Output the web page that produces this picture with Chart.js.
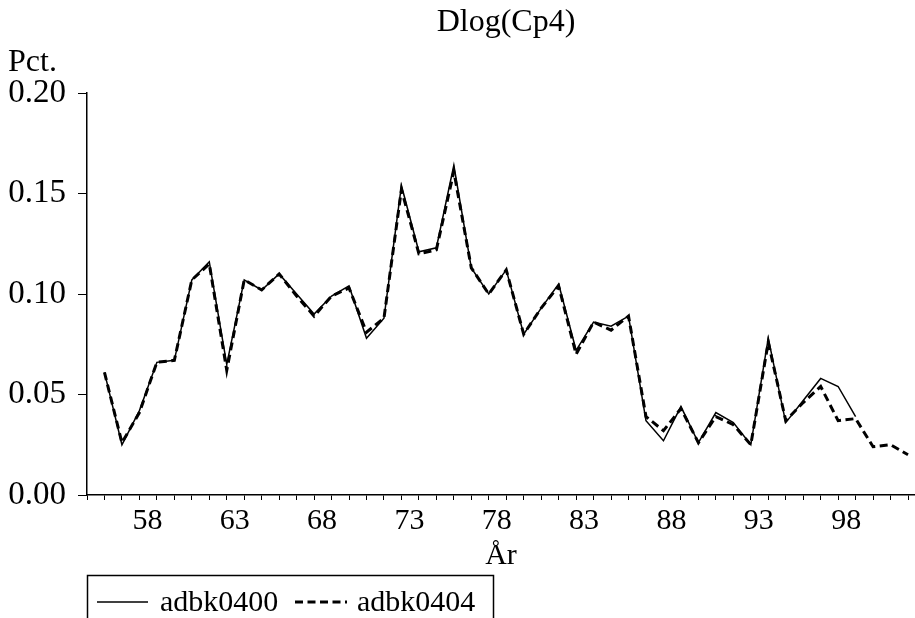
<!DOCTYPE html>
<html>
<head>
<meta charset="utf-8">
<title>Dlog(Cp4)</title>
<script src="https://cdn.jsdelivr.net/npm/chart.js@4.4.1/dist/chart.umd.min.js"></script>
<style>
    html, body { margin: 0; padding: 0; background: #fff; }
    #wrap { width: 915px; height: 618px; }
</style>
</head>
<body>
<div id="wrap"><canvas id="chart" width="915" height="618"></canvas></div>
<script>
// years on the axis
const years = [
    1956, 1957, 1958, 1959, 1960, 1961, 1962, 1963, 1964, 1965,
    1966, 1967, 1968, 1969, 1970, 1971, 1972, 1973, 1974, 1975,
    1976, 1977, 1978, 1979, 1980, 1981, 1982, 1983, 1984, 1985,
    1986, 1987, 1988, 1989, 1990, 1991, 1992, 1993, 1994, 1995,
    1996, 1997, 1998, 1999, 2000, 2001, 2002
];

// adbk0400 (solid), stops in 1999
const adbk0400 = [
    0.061, 0.025, 0.042, 0.066, 0.067, 0.107, 0.116, 0.065, 0.107, 0.102,
    0.110, 0.100, 0.090, 0.099, 0.104, 0.078, 0.088, 0.154, 0.121, 0.123,
    0.164, 0.113, 0.100, 0.112, 0.080, 0.093, 0.105, 0.072, 0.086, 0.084,
    0.089, 0.037, 0.027, 0.044, 0.026, 0.041, 0.036, 0.025, 0.078, 0.036,
    0.047, 0.058, 0.054, 0.039, null, null, null
];

// adbk0404 (dashed)
const adbk0404 = [
    0.061, 0.026, 0.041, 0.066, 0.067, 0.107, 0.115, 0.062, 0.107, 0.102,
    0.110, 0.099, 0.089, 0.099, 0.103, 0.081, 0.088, 0.152, 0.120, 0.122,
    0.161, 0.113, 0.100, 0.112, 0.080, 0.093, 0.104, 0.070, 0.086, 0.082,
    0.089, 0.039, 0.032, 0.043, 0.026, 0.039, 0.035, 0.025, 0.076, 0.037,
    0.046, 0.054, 0.037, 0.038, 0.024, 0.025, 0.020
];

// labelled years on x axis and y ticks
const xLabelYears = [1958, 1963, 1968, 1973, 1978, 1983, 1988, 1993, 1998];
const yTicks = [0, 0.05, 0.10, 0.15, 0.20];

const seriesNames = ['adbk0400', 'adbk0404'];
const titleText = 'Dlog(Cp4)';
const yUnitText = 'Pct.';
const xTitleText = 'År';

document.addEventListener('DOMContentLoaded', function() {
    const ctx = document.getElementById('chart').getContext('2d');
    const FONT = '"Liberation Serif", "Times New Roman", serif';

    function toPoints(values) {
        return years.map((y, i) => ({ x: y, y: values[i] }));
    }

    // white background, title, unit, axis title and boxed legend
    const decorations = {
        id: 'decorations',
        beforeDraw(chart) {
            const c = chart.ctx;
            c.save();
            c.fillStyle = '#fff';
            c.fillRect(0, 0, chart.width, chart.height);
            c.restore();
        },
        afterDraw(chart) {
            const c = chart.ctx;
            const area = chart.chartArea;
            c.save();
            c.fillStyle = '#000';
            c.strokeStyle = '#000';
            c.textBaseline = 'alphabetic';

            c.font = '32px ' + FONT;
            c.textAlign = 'center';
            c.fillText(titleText, 506, 31);

            c.textAlign = 'left';
            c.fillText(yUnitText, 8, 71);

            c.font = '30px ' + FONT;
            c.textAlign = 'center';
            c.fillText(xTitleText, (area.left + area.right) / 2, 564);

            // legend box
            c.lineWidth = 1.5;
            c.strokeRect(87.5, 575.5, 406, 60);

            c.beginPath();
            c.moveTo(97, 602);
            c.lineTo(148, 602);
            c.stroke();

            c.lineWidth = 3;
            c.setLineDash([8, 4.5]);
            c.beginPath();
            c.moveTo(295, 602);
            c.lineTo(347, 602);
            c.stroke();
            c.setLineDash([]);

            c.textAlign = 'left';
            c.fillText(seriesNames[0], 160, 611);
            c.fillText(seriesNames[1], 357, 611);
            c.restore();
        }
    };

    new Chart(ctx, {
        type: 'line',
        data: {
            datasets: [{
                label: seriesNames[0],
                data: toPoints(adbk0400),
                borderColor: '#000',
                borderWidth: 1.5,
                pointRadius: 0,
                tension: 0,
                fill: false
            }, {
                label: seriesNames[1],
                data: toPoints(adbk0404),
                borderColor: '#000',
                borderWidth: 3,
                borderDash: [8, 4.5],
                pointRadius: 0,
                tension: 0,
                fill: false
            }]
        },
        options: {
            responsive: false,
            animation: false,
            layout: { padding: { top: 93, left: 0, right: 0, bottom: 0 } },
            plugins: {
                legend: { display: false },
                title: { display: false },
                tooltip: { enabled: false }
            },
            scales: {
                x: {
                    type: 'linear',
                    min: 1955,
                    max: 2002.4,
                    afterFit: function(scale) { scale.height = 123; },
                    border: { display: true, color: '#000', width: 1.5 },
                    grid: { drawOnChartArea: false, drawTicks: true, tickLength: 5, color: '#000', lineWidth: 1 },
                    afterBuildTicks: function(scale) {
                        const t = [];
                        for (let y = 1955; y <= 2002; y++) t.push({ value: y });
                        scale.ticks = t;
                    },
                    ticks: {
                        autoSkip: false,
                        maxRotation: 0,
                        padding: 3,
                        labelOffset: 8,
                        color: '#000',
                        font: { family: FONT, size: 30 },
                        callback: function(value) {
                            return xLabelYears.includes(value) ? String(value % 100) : '';
                        }
                    }
                },
                y: {
                    min: 0,
                    max: 0.2,
                    afterFit: function(scale) { scale.width = 87; },
                    border: { display: true, color: '#000', width: 1.5 },
                    grid: { drawOnChartArea: false, drawTicks: true, tickLength: 9, color: '#000', lineWidth: 1 },
                    afterBuildTicks: function(scale) {
                        scale.ticks = yTicks.map(v => ({ value: v }));
                    },
                    ticks: {
                        padding: 12,
                        color: '#000',
                        font: { family: FONT, size: 33 },
                        callback: function(value) { return value.toFixed(2); }
                    }
                }
            }
        },
        plugins: [decorations]
    });
});
</script>
</body>
</html>
